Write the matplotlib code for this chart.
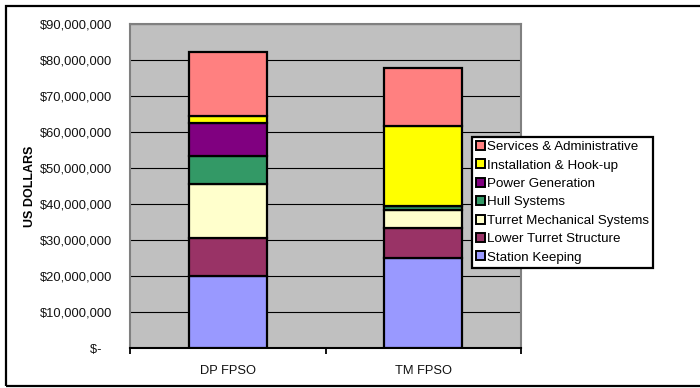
import numpy as np
import matplotlib
matplotlib.use("Agg")
import matplotlib.pyplot as plt
from matplotlib.patches import Rectangle, Patch
from matplotlib.ticker import FuncFormatter, FixedLocator

plt.rcParams["font.family"] = ["Liberation Sans", "DejaVu Sans"]

categories = ["DP FPSO", "TM FPSO"]
components = [
    "Station Keeping",
    "Lower Turret Structure",
    "Turret Mechanical Systems",
    "Hull Systems",
    "Power Generation",
    "Installation & Hook-up",
    "Services & Administrative",
]
# cost of each component, US dollars (DP FPSO, TM FPSO)
station_keeping = [20_000_000, 25_000_000]
lower_turret    = [10_600_000, 8_300_000]
turret_mech     = [15_000_000, 5_100_000]
hull_systems    = [7_800_000, 1_100_000]
power_gen       = [9_000_000, 0]
install_hookup  = [2_000_000, 22_200_000]
services_admin  = [17_800_000, 16_100_000]

series = [station_keeping, lower_turret, turret_mech, hull_systems,
          power_gen, install_hookup, services_admin]
colors = ["#9999FF", "#993366", "#FFFFCC", "#339966",
          "#800080", "#FFFF00", "#FF8080"]

W, H = 700, 388
fig = plt.figure(figsize=(W / 100, H / 100), dpi=100, facecolor="white")
ax = fig.add_axes([130 / W, 1 - 348 / H, (521 - 130) / W, (348 - 24) / H])
ax.set_facecolor("#C0C0C0")

x = np.arange(len(categories))
bottom = np.zeros(len(categories))
for vals, col, name in zip(series, colors, components):
    ax.bar(x, vals, width=0.4, bottom=bottom, color=col, edgecolor="black",
           linewidth=1.6, label=name, zorder=3)
    bottom += np.array(vals)

ax.set_xlim(-0.5, 1.5)
ax.set_ylim(0, 90_000_000)
ax.set_yticks(np.arange(0, 90_000_001, 10_000_000))
ax.yaxis.set_major_formatter(FuncFormatter(
    lambda v, p: "$-   " if v == 0 else f"${v:,.0f}"))
ax.yaxis.grid(True, color="black", linewidth=0.8, zorder=1)
ax.set_axisbelow(True)
ax.tick_params(axis="y", length=0, pad=13, labelsize=9.3, labelcolor="#111111")

ax.set_xticks(x)
ax.set_xticklabels(categories)
ax.xaxis.set_minor_locator(FixedLocator([-0.5, 0.5, 1.5]))
ax.tick_params(axis="x", which="major", length=0, pad=12, labelsize=9.3,
               labelcolor="#111111")
ax.tick_params(axis="x", which="minor", length=4, width=1.3, color="black")

for side in ["left", "right", "top"]:
    ax.spines[side].set_color("#808080")
    ax.spines[side].set_linewidth(1.5)
ax.spines["bottom"].set_color("black")
ax.spines["bottom"].set_linewidth(1.5)

ax.set_ylabel("US DOLLARS", fontsize=9, fontweight="bold")
ax.yaxis.set_label_coords(-0.24, 0.5)

handles = [Patch(facecolor=c, edgecolor="black", linewidth=1.4, label=n)
           for c, n in zip(colors, components)][::-1]
leg = fig.legend(handles=handles, loc="upper left",
                 bbox_to_anchor=(472 / W, 1 - 137 / H),
                 fontsize=9.6, frameon=True, fancybox=False,
                 handlelength=0.65, handleheight=0.65, handletextpad=0.15,
                 labelspacing=0.47, borderpad=0.3, borderaxespad=0)
leg.get_frame().set_edgecolor("black")
leg.get_frame().set_linewidth(1.6)
leg.get_frame().set_alpha(1)

# outer chart border
fig.patches.append(Rectangle((6 / W, 2 / H), 1.0, 1 - 7.5 / H,
                             transform=fig.transFigure, fill=False,
                             edgecolor="black", linewidth=1.6))

fig.savefig("out.png", dpi=100, facecolor="white")
